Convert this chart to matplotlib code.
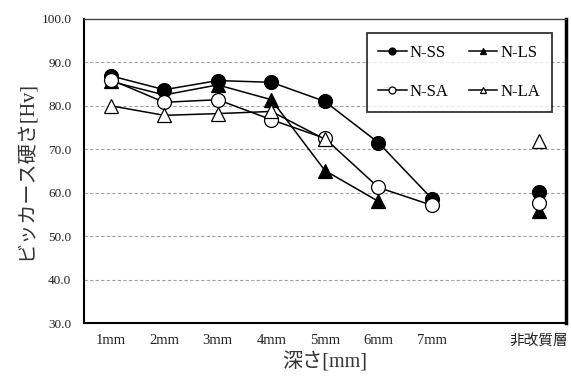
import numpy as np
import matplotlib.pyplot as plt

plt.rcParams['font.family'] = ['Liberation Serif', 'Noto Sans CJK JP']

categories = ['1mm', '2mm', '3mm', '4mm', '5mm', '6mm', '7mm', '', '非改質層']
nan = np.nan
n_ss = [86.9, 83.7, 85.8, 85.4, 81.0, 71.5, 58.6, nan, 60.1]
n_ls = [85.6, 82.5, 84.8, 81.4, 65.1, 58.0, nan, nan, 55.7]
n_sa = [86.0, 80.8, 81.4, 76.8, 72.5, 61.2, 57.1, nan, 57.7]
n_la = [80.0, 77.8, 78.2, 78.7, 72.3, nan, nan, nan, 71.8]

series = [
    ('N-SS', n_ss, 'o', 'black'),
    ('N-LS', n_ls, '^', 'black'),
    ('N-SA', n_sa, 'o', 'white'),
    ('N-LA', n_la, '^', 'white'),
]

fig = plt.figure(figsize=(5.71, 3.77), dpi=100)
ax = fig.add_axes([0.147, 0.143, 0.844, 0.807])
x = np.arange(len(categories))

lines = {}
for i, (name, vals, mk, fc) in enumerate(series):
    ms = 10 if mk == 'o' else 9.5
    ln, = ax.plot(x, vals, color='black', lw=1.1, marker=mk, markersize=ms,
                  markerfacecolor=fc, markeredgecolor='black', markeredgewidth=0.9,
                  zorder=3 + i, clip_on=False)
    lines[name] = ln

ax.set_xlim(-0.5, len(categories) - 0.5)
ax.set_ylim(30, 100)
ax.set_yticks(np.arange(30, 101, 10))
ax.set_yticklabels([f'{v:.1f}' for v in np.arange(30, 101, 10)], fontsize=9.5, color='#222222')
ax.set_xticks(x)
ax.set_xticklabels(categories, fontsize=10.5, color='#222222')
ax.tick_params(length=0)
ax.tick_params(axis='x', pad=8)
ax.tick_params(axis='y', pad=9)

for v in range(40, 100, 10):
    ax.axhline(v, color='#a0a0a0', lw=0.8, ls=(0, (3, 2)), zorder=1)

for s in ['left', 'bottom']:
    ax.spines[s].set_linewidth(1.5)
ax.spines['top'].set_linewidth(1.0)
ax.spines['top'].set_color('#444444')
ax.spines['right'].set_linewidth(2.5)

ax.set_ylabel('ビッカース硬さ[Hv]', fontsize=14.5, color='#333333', labelpad=4)
ax.set_xlabel('深さ[mm]', fontsize=14.5, color='#333333', labelpad=3)

# column-wise fill: SS, SA in col 1 / LS, LA in col 2
order = ['N-SS', 'N-SA', 'N-LS', 'N-LA']
leg = ax.legend([lines[k] for k in order], order, ncol=2, loc='upper right',
                bbox_to_anchor=(0.971, 0.954), borderaxespad=0, fontsize=12,
                frameon=True, fancybox=False, edgecolor='black',
                handlelength=1.7, handletextpad=0.2, columnspacing=1.2,
                labelspacing=1.4, borderpad=0.7, markerscale=0.5)
leg.get_frame().set_linewidth(1.3)

fig.savefig('out.png', dpi=100)
